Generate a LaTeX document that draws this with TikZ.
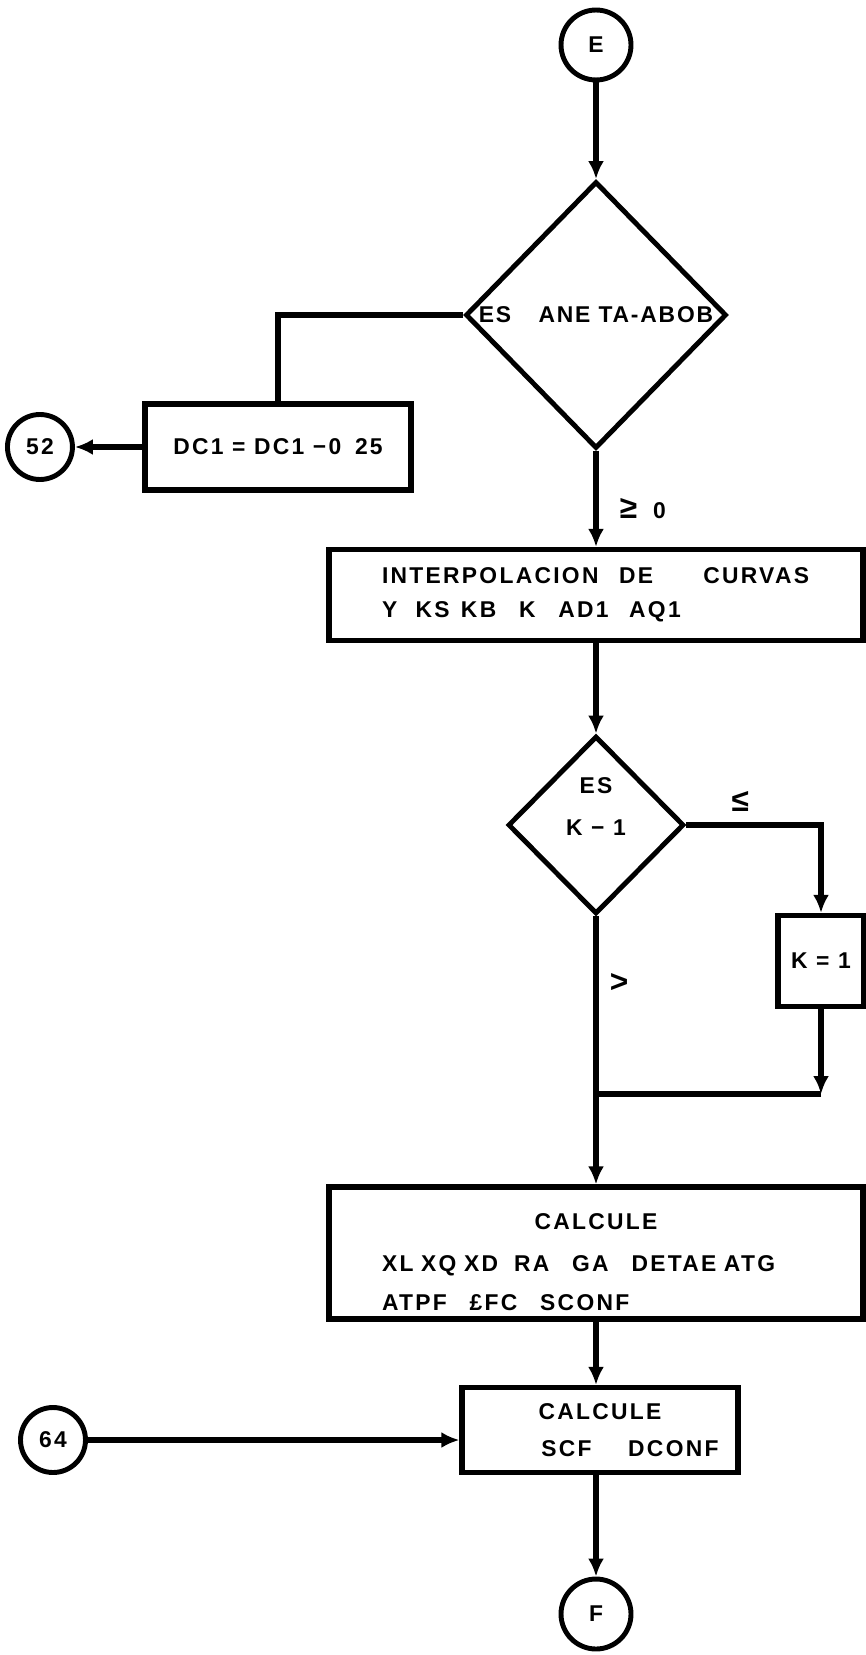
\documentclass[tikz,border=0pt]{standalone}
\usepackage{amsmath,amssymb}
\usepackage{fontspec}
\setmainfont{Liberation Sans}[LetterSpace=10]
\usepackage{tikz}
\usetikzlibrary{arrows.meta,positioning,shapes.geometric}

\begin{document}
\begin{tikzpicture}[
  x=0.02cm,y=-0.02cm,
  >={Latex[length=3.6mm,width=3.2mm]},
  font=\fontsize{13}{17}\selectfont\bfseries,
  conn/.style={draw,circle,line width=2.8pt,minimum size=1.4cm,inner sep=0pt},
  box/.style={draw,line width=3pt,inner sep=0pt},
  test/.style={draw,diamond,line width=2.8pt,inner sep=0pt,aspect=1},
  flow/.style={line width=3.3pt},
  arrow/.style={flow,->},
  rel/.style={font=\fontsize{18}{18}\selectfont\bfseries}
]
  \useasboundingbox (0,0) rectangle (865,1655);

  % main column
  \node[conn] (e) at (596,45) {E};
  \node[test,minimum width=5.22cm,minimum height=5.34cm] (d1) at (596,315)
    {\addfontfeatures{LetterSpace=8}ES\hspace{1.2em}ANE TA-ABOB};
  \node[box,minimum width=5.32cm,minimum height=1.72cm] (dc) at (278,447)
    {DC1 = DC1 −0\hspace{0.6em}25};
  \node[conn,minimum size=1.3cm,left=1.35cm of dc] (c52) {52};
  \node[box,minimum width=10.68cm,minimum height=1.82cm,text width=8.56cm,
        align=left,font=\fontsize{13}{19.5}\selectfont\bfseries] (interp) at (596,595)
    {INTERPOLACION\hspace{0.9em}DE\hspace{2.2em}CURVAS\\
     Y\hspace{0.8em}KS\hspace{0.5em}KB\hspace{1em}K\hspace{1em}AD1\hspace{0.9em}AQ1};
  \node[test,minimum width=3.52cm,minimum height=3.56cm] (d2) at (596,825) {};
  \node at (596,786) {ES};
  \node at (596,828) {K − 1};
  \node[box,minimum width=1.72cm,minimum height=1.82cm] (k1) at (821,961) {K = 1};
  \coordinate (join) at (821,1094);
  \node[box,minimum width=10.68cm,minimum height=2.64cm,text width=8.56cm,
        align=left,font=\fontsize{13}{22}\selectfont\bfseries] (calc) at (596,1253)
    {\makebox[\linewidth]{\rule{0pt}{19pt}CALCULE}\\[2pt]
     XL XQ XD\hspace{0.7em}RA\hspace{1em}GA\hspace{1em}DETAE ATG\\
     ATPF\hspace{1em}£FC\hspace{1em}SCONF};
  \node[box,minimum width=5.52cm,minimum height=1.7cm,align=center,
        font=\fontsize{13}{21}\selectfont\bfseries] (calc2) at (600,1430)
    {CALCULE\\\hspace*{1.2cm}SCF\hspace{1.6em}DCONF};
  \node[conn,minimum size=1.3cm] (c64) at (53,1440) {64};
  \node[conn] (f) at (596,1614) {F};

  \draw[arrow] (e) -- (d1);
  \draw[flow] (d1.west) -| (dc.north);
  \draw[arrow] (dc) -- (c52);
  \draw[arrow] (d1.south) -- node[pos=0.6,right=0.3cm]{{\fontsize{18}{18}\selectfont ≥}\hspace{0.7em}0} (interp);
  \draw[arrow] (interp) -- (d2.north);
  \draw[arrow] (d2.east) -| node[pos=0.2,above=0.1cm,rel]{≤} (k1);
  \draw[arrow] (k1) -- (join);
  \draw[flow] (join) -- (join -| d2.south);
  \draw[arrow] (d2.south) -- node[pos=0.25,right=0.1cm,rel]{>} (calc);
  \draw[arrow] (calc) -- (calc.south |- calc2.north);
  \draw[arrow] (c64) -- (c64 -| calc2.west);
  \draw[arrow] (calc.south |- calc2.south) -- (f);
\end{tikzpicture}
\end{document}
